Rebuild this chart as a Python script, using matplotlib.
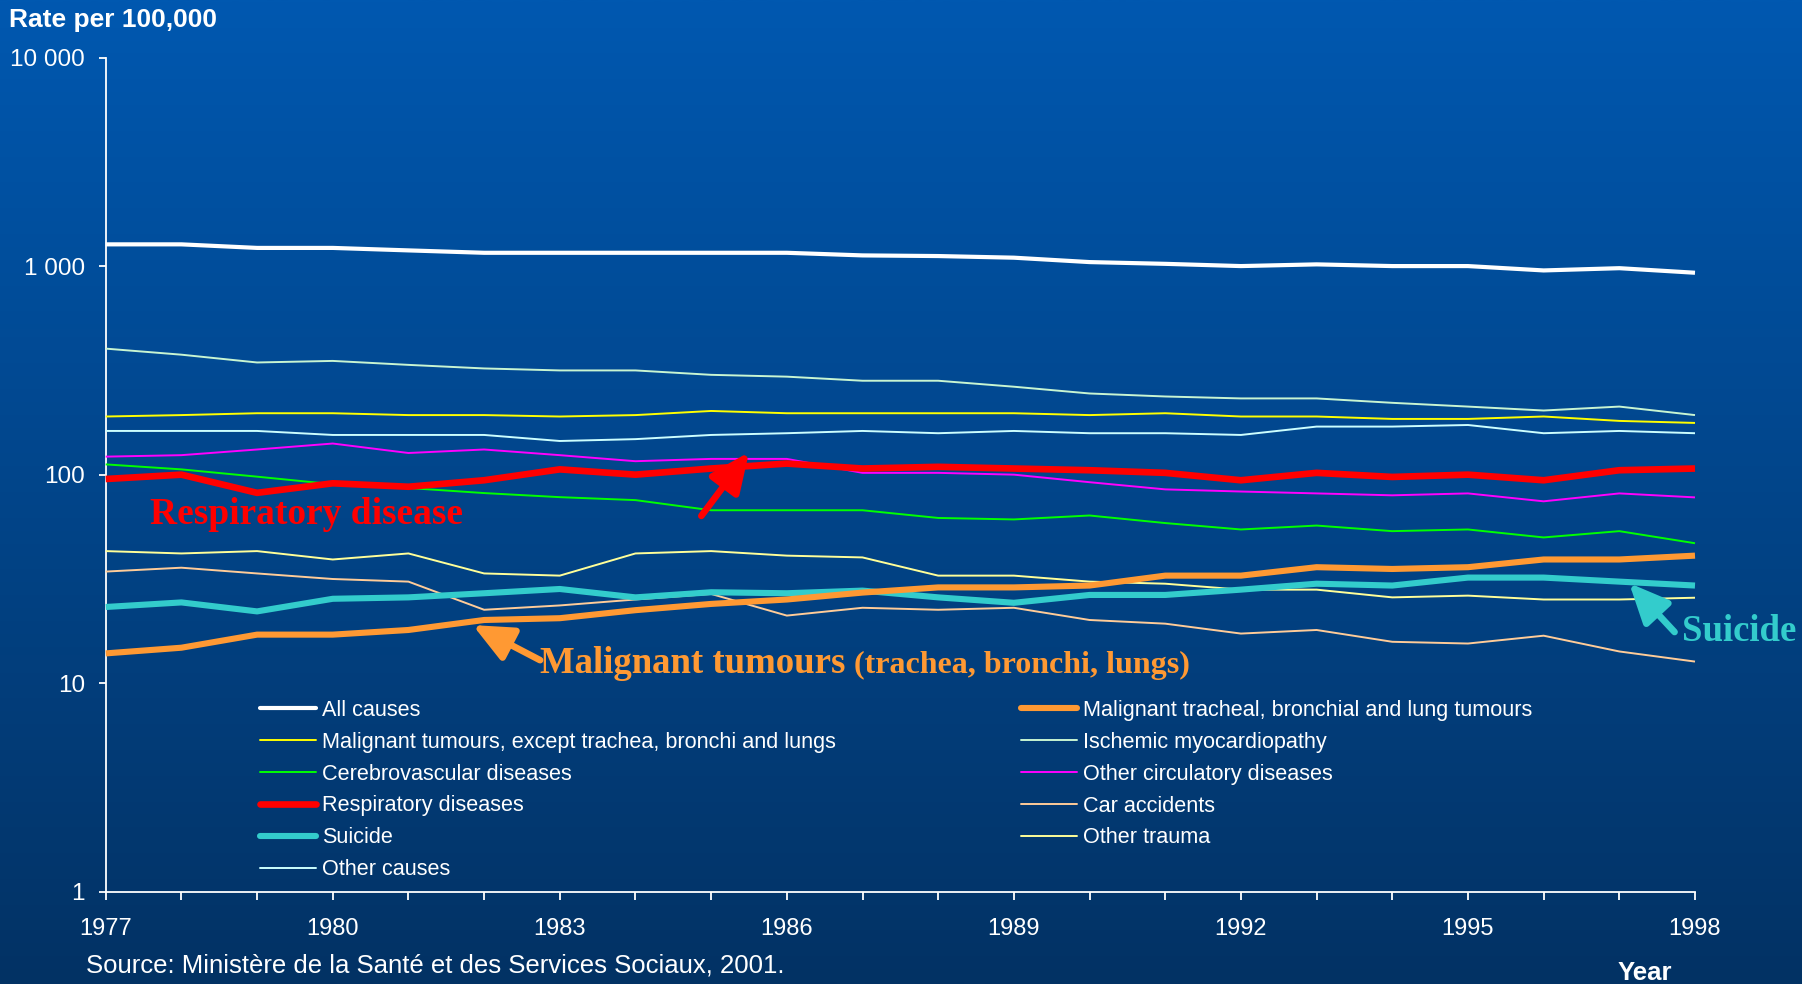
import numpy as np
import matplotlib
matplotlib.use("Agg")
import matplotlib.pyplot as plt
from matplotlib.ticker import NullLocator, FixedLocator, FixedFormatter

plt.rcParams['font.family'] = ['Liberation Sans', 'DejaVu Sans']

# ---------------- data ----------------
years = list(range(1977, 1999))

all_causes   = [1271, 1271, 1222, 1222, 1189, 1158, 1158, 1158, 1158, 1158, 1125,
                1117, 1097, 1045, 1025, 1000, 1019, 1000, 1000, 953, 977, 929]
mal_except   = [190, 193, 197, 197, 193, 193, 190, 193, 202, 197, 197,
                197, 197, 193, 197, 190, 190, 185, 185, 190, 181, 177]
cerebro      = [112, 106, 97.8, 90, 86.3, 81.6, 78, 75.5, 67.5, 67.5, 67.5,
                62, 61, 63.7, 58.6, 54.6, 57, 53.6, 54.6, 50, 53.6, 46.9]
respiratory  = [95.3, 100, 81.8, 90.9, 87.5, 94, 106, 100, 107, 113, 107,
                109, 107, 105, 102, 94, 102, 97.5, 100, 94, 105, 107]
suicide      = [23.2, 24.4, 22.1, 25.4, 25.8, 27.0, 28.3, 25.8, 27.3, 27.0, 27.8,
                25.8, 24.3, 26.5, 26.5, 28.1, 30.0, 29.4, 32.1, 32.1, 30.7, 29.4]
other_causes = [162, 162, 162, 155, 155, 155, 145, 148, 155, 158, 162,
                158, 162, 158, 158, 155, 170, 170, 173, 158, 162, 158]
mal_lung     = [13.9, 14.8, 17.1, 17.1, 18.0, 20.1, 20.5, 22.4, 24.0, 25.2, 27.2,
                28.8, 28.8, 29.4, 32.8, 32.8, 36.0, 35.3, 36.0, 39.2, 39.2, 40.9]
ischemic     = [402, 376, 345, 351, 336, 323, 316, 316, 301, 295, 282,
                282, 264, 245, 237, 232, 232, 221, 212, 203, 212, 193]
other_circ   = [122, 124, 132, 141, 127, 132, 124, 116, 119, 119, 102,
                102, 100, 92, 85, 83, 81.3, 79.6, 81.3, 74.5, 81.3, 77.8]
car_acc      = [34.3, 35.8, 33.6, 31.6, 30.7, 22.5, 23.6, 25.2, 26.8, 21.1, 23.0,
                22.5, 23.0, 20.1, 19.3, 17.3, 18.0, 15.8, 15.5, 16.9, 14.2, 12.7]
other_trauma = [43, 41.9, 43, 39.2, 41.9, 33.6, 32.8, 41.9, 43, 40.9, 40.1,
                32.8, 32.8, 30.7, 30.0, 28.1, 28.1, 25.8, 26.3, 25.2, 25.2, 25.7]

labels_left = ["All causes", "Malignant tumours, except trachea, bronchi and lungs",
               "Cerebrovascular diseases", "Respiratory diseases", "Suicide", "Other causes"]
labels_right = ["Malignant tracheal, bronchial and lung tumours", "Ischemic myocardiopathy",
                "Other circulatory diseases", "Car accidents", "Other trauma"]

y_ticks = [1, 10, 100, 1000, 10000]
y_tick_labels = ["1", "10", "100", "1 000", "10 000"]

# ---------------- figure ----------------
W, H = 1802, 984
fig = plt.figure(figsize=(W / 100, H / 100), dpi=100)

# gradient background
bg = fig.add_axes([0, 0, 1, 1], zorder=-10)
top = np.array([0, 88, 176]) / 255.0
bot = np.array([3, 50, 100]) / 255.0
t = np.linspace(0, 1, 256)[:, None]
grad = (top[None, :] * (1 - t) + bot[None, :] * t)[:, None, :]
bg.imshow(grad, aspect='auto', extent=[0, 1, 0, 1], interpolation='bilinear')
bg.set_xlim(0, 1); bg.set_ylim(0, 1)
bg.axis('off')

x0, x1 = 105.7, 1695.0
yt, yb = 57.5, 891.8
ax = fig.add_axes([x0 / W, 1 - yb / H, (x1 - x0) / W, (yb - yt) / H])
ax.set_facecolor('none')

series = [
    (all_causes,   labels_left[0],  '#FFFFFF', 3.0, 5),
    (mal_except,   labels_left[1],  '#FFFF00', 1.4, 3),
    (cerebro,      labels_left[2],  '#00FF00', 1.4, 3),
    (respiratory,  labels_left[3],  '#FF0000', 4.8, 6),
    (suicide,      labels_left[4],  '#33CCCC', 4.4, 5),
    (other_causes, labels_left[5],  '#CCFFFF', 1.4, 3),
    (mal_lung,     labels_right[0], '#FF9933', 4.4, 5),
    (ischemic,     labels_right[1], '#C8F5D2', 1.4, 3),
    (other_circ,   labels_right[2], '#FF00FF', 1.4, 3),
    (car_acc,      labels_right[3], '#FFCC99', 1.4, 3),
    (other_trauma, labels_right[4], '#FFFF99', 1.4, 3),
]
handles = []
for vals, lab, col, lw, z in series:
    ln, = ax.plot(years, vals, color=col, lw=lw, label=lab, zorder=z,
                  solid_joinstyle='round', solid_capstyle='butt', clip_on=False)
    handles.append(ln)

ax.set_yscale('log')
ax.set_ylim(1, 10000)
ax.set_xlim(1977, 1998)
ax.yaxis.set_major_locator(FixedLocator(y_ticks))
ax.yaxis.set_major_formatter(FixedFormatter(y_tick_labels))
ax.yaxis.set_minor_locator(NullLocator())
ax.set_xticks(years)
ax.set_xticklabels([str(y) if (y - 1977) % 3 == 0 else '' for y in years])

for s in ['top', 'right']:
    ax.spines[s].set_visible(False)
for s in ['left', 'bottom']:
    ax.spines[s].set_color('white')
    ax.spines[s].set_linewidth(1.3)
ax.tick_params(axis='x', colors='white', direction='out', length=6, width=1.3,
               pad=13, labelsize=17)
ax.tick_params(axis='y', colors='white', direction='out', length=5, width=1.3,
               pad=10, labelsize=17.5)

# legends
leg_kw = dict(loc='upper left', bbox_transform=fig.transFigure, frameon=False,
              fontsize=15.6, handlelength=2.6, handletextpad=0.25, labelspacing=0.5,
              borderpad=0, borderaxespad=0, labelcolor='white')
leg1 = ax.legend(handles=handles[:6], bbox_to_anchor=(260 / W, 1 - 700 / H), **leg_kw)
ax.add_artist(leg1)
leg2 = ax.legend(handles=handles[6:], bbox_to_anchor=(1021 / W, 1 - 700 / H), **leg_kw)
for leg in (leg1, leg2):
    for h in leg.legend_handles:
        h.set_solid_capstyle('round')

# annotations
serif = ['Liberation Serif', 'DejaVu Serif']
ax.text(1977.59, 58, "Respiratory disease", color='#FF0000', fontsize=27,
        fontweight='bold', family=serif, va='baseline', ha='left', zorder=8)
t1 = ax.text(1982.74, 11.2, "Malignant tumours", color='#FF9933', fontsize=26.5,
             fontweight='bold', family=serif, va='baseline', ha='left', zorder=8)
ax.text(1997.83, 15.9, "Suicide", color='#33CCCC', fontsize=26.5,
        fontweight='bold', family=serif, va='baseline', ha='left', zorder=8, clip_on=False)

arrow_specs = [
    ((1985.5, 128), (1984.87, 63.4), '#FF0000'),
    ((1981.85, 19.0), (1982.74, 12.9), '#FF9933'),
    ((1997.13, 30.2), (1997.73, 17.6), '#33CCCC'),
]
for tip, tail, col in arrow_specs:
    ax.annotate('', xy=tip, xytext=tail,
                arrowprops=dict(arrowstyle='-|>,head_length=1.0,head_width=0.45',
                                color=col, lw=4.8, shrinkA=0, shrinkB=0,
                                mutation_scale=24),
                zorder=8, annotation_clip=False)

fig.canvas.draw()
bb = t1.get_window_extent(renderer=fig.canvas.get_renderer())
xd, _ = ax.transData.inverted().transform((bb.x1 + 9, 0))
ax.text(xd, 11.2, "(trachea, bronchi, lungs)", color='#FF9933', fontsize=23,
        fontweight='bold', family=serif, va='baseline', ha='left', zorder=8)

# figure texts
fig.text(9 / W, 1 - 19.5 / H, "Rate per 100,000", color='white', fontsize=19,
         fontweight='bold', va='center', ha='left')
fig.text(86 / W, 1 - 966 / H, "Source: Ministère de la Santé et des Services Sociaux, 2001.",
         color='white', fontsize=18.5, va='center', ha='left')
fig.text(1645 / W, 1 - 973 / H, "Year", color='white', fontsize=18.5,
         fontweight='bold', va='center', ha='center')

fig.savefig("out.png", dpi=100)
